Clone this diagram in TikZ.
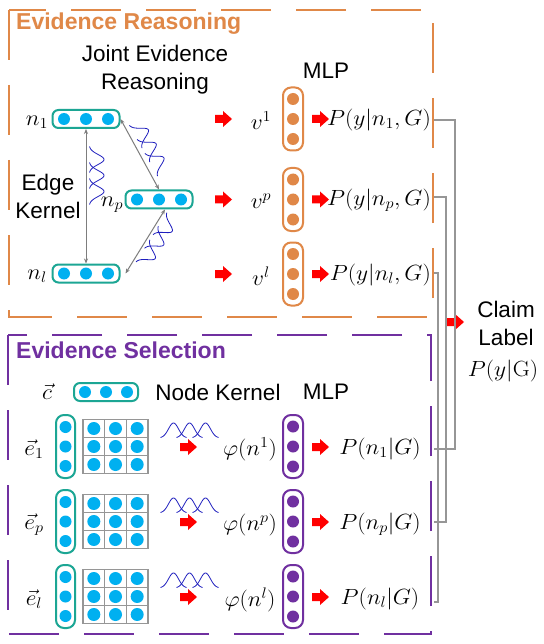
\documentclass[tikz,border=0pt]{standalone}
\usepackage[no-math]{fontspec}
\usepackage{graphicx}
\setmainfont{Liberation Sans}
\usetikzlibrary{arrows.meta}
\definecolor{ora}{RGB}{224,136,72}
\definecolor{pur}{RGB}{112,48,160}
\definecolor{tealb}{RGB}{28,166,148}
\definecolor{dblue}{RGB}{0,176,240}
\definecolor{cgray}{RGB}{150,150,150}
\definecolor{egray}{RGB}{125,125,125}
\definecolor{rred}{RGB}{255,0,0}
\definecolor{kblue}{RGB}{30,30,190}
\newcommand{\mm}[1]{\scalebox{1.13}[1.06]{$#1$}}
\tikzset{
  kern/.pic={\foreach \c in {-16,0,16}{\draw[kblue,line width=0.8pt,smooth,domain=-13:13,samples=27] plot ({\x+(\c)},{-15*exp(-(\x*\x)/50)});}},
  rarr/.pic={\fill[rred] (0,-4) -- (8,-4) -- (8,-8) -- (17,0) -- (8,8) -- (8,4) -- (0,4) -- cycle;},
}
\begin{document}
\begin{tikzpicture}[x=1pt,y=-1pt,
  sectbox/.style={line width=2.2pt,dash pattern=on 50pt off 25pt},
  sectitle/.style={font=\fontsize{23}{26}\selectfont\bfseries,anchor=west,inner sep=0},
  lbl/.style={font=\fontsize{22.5}{28}\selectfont,align=center,inner sep=0},
  mth/.style={font=\fontsize{20.74}{26}\selectfont,inner sep=0},
  hbox/.style={draw=tealb,line width=2pt,rounded corners=6pt,minimum width=#1,minimum height=18pt,inner sep=0},
  vbox/.style={draw=#1,line width=2pt,rounded corners=8pt,minimum width=20pt,minimum height=63pt,inner sep=0},
  ndot/.style={circle,fill=#1,minimum size=12pt,inner sep=0},
  gedge/.style={draw=egray,line width=1pt,{Stealth[length=5pt,width=4pt]}-{Stealth[length=5pt,width=4pt]}},
  gconn/.style={draw=cgray,line width=1.4pt},
  gridl/.style={draw=cgray,line width=1.4pt},
]
\useasboundingbox (0,0) rectangle (543,644);
\fill[white] (0,0) rectangle (543,644);

% section boxes
\draw[ora,sectbox] (9,10) rectangle (433,317);
\draw[pur,sectbox] (8,335) rectangle (431,634);
\node[sectitle,text=ora] (t1) at (16,24) {Evidence Reasoning};
\node[sectitle,text=pur] (t2) at (16,350) {Evidence Selection};

\node[lbl] (jer) at (155,70) {Joint Evidence\\Reasoning};
\node[lbl] (mlpa) at (326,71) {MLP};
\node[lbl] (ek) at (48,196) {Edge\\Kernel};

% upper node boxes
\node[hbox=67pt] (n1) at (86,119) {};
\node[hbox=67pt] (np) at (159,199.5) {};
\node[hbox=67pt] (nl) at (86,273.5) {};
\foreach \b in {n1,np,nl}{
  \foreach \i/\dx in {1/-22,2/0,3/22}{
    \node[ndot=dblue] (\b d\i) at ([xshift=\dx pt]\b.center) {};
  }
}
\node[mth] (ln1) at (37,122) {\mm{n_1}};
\node[mth] (lnp) at (112,205) {\mm{n_p}};
\node[mth] (lnl) at (37,276) {\mm{n_l}};

\draw[gedge] (n1.south) -- (nl.north);
\draw[gedge] (n1.east) -- (np.north);
\draw[gedge] ([xshift=6pt]np.south) -- ([xshift=5pt]nl.east);

\pic[rotate=-90] at (89,175.5) {kern};
\pic[rotate=-61] at (143,151) {kern};
\pic[rotate=-122] at (151,237) {kern};

\foreach \r/\yc in {1/119,p/199.5,l/274}{
  \pic at (215,\yc) {rarr};
  \node[mth] (v\r) at (261,\yc+2) {\mm{v^{\r}}};
  \node[vbox=ora] (m\r) at (293,\yc) {};
  \foreach \i/\dy in {1/-20,2/0,3/20}{\node[ndot=ora] (m\r d\i) at ([yshift=\dy pt]m\r.center) {};}
  \pic at (312,\yc) {rarr};
  \node[mth,anchor=east] (py\r) at (431,\yc+1) {\mm{P(y|n_{\r},G)}};
}

\pic at (447,322) {rarr};
\node[lbl] (claim) at (506,323) {Claim\\Label};
\node[mth] (pyg) at (503,371) {\mm{P(y|\mathrm{G})}};

% lower section
\node[mth] (cv) at (47,392) {\mm{\vec{c}}};
\node[hbox=64pt] (cb) at (106,392) {};
\foreach \i/\dx in {1/-21,2/0,3/21}{\node[ndot=dblue] (cbd\i) at ([xshift=\dx pt]cb.center) {};}
\node[lbl] (nk) at (218,392) {Node Kernel};
\node[lbl] (mlpb) at (326,392) {MLP};

\foreach \r/\s/\yc in {1/1/446.5,2/p/521.5,3/l/596.5}{
  \node[mth] (e\r) at (34,\yc+3) {\mm{\vec{e}_{\s}}};
  \node[draw=tealb,line width=2pt,rounded corners=8pt,minimum width=19pt,minimum height=63pt,inner sep=0] (eb\r) at (65.5,\yc) {};
  \foreach \i/\dy in {1/-19.5,2/0,3/19.5}{\node[ndot=dblue] (eb\r d\i) at ([yshift=\dy pt]eb\r.center) {};}
  \draw[gridl] (83,\yc-27) rectangle (148,\yc+27);
  \draw[gridl] ({83+65/3},\yc-27) -- ({83+65/3},\yc+27);
  \draw[gridl] ({83+130/3},\yc-27) -- ({83+130/3},\yc+27);
  \draw[gridl] (83,\yc-9) -- (148,\yc-9);
  \draw[gridl] (83,\yc+9) -- (148,\yc+9);
  \foreach \i in {0,1,2}{\foreach \j in {0,1,2}{
    \node[ndot=dblue,minimum size=13pt] (g\r\i\j) at ({83+65/6+\i*65/3},{\yc-18+\j*18}) {};}}
  \pic at (189.5,\yc-8.5) {kern};
  \pic at (180,\yc+0.5) {rarr};
  \node[mth] (phi\r) at (250,\yc+3) {\mm{\varphi(n^{\s})}};
  \node[vbox=pur] (pm\r) at (293,\yc) {};
  \foreach \i/\dy in {1/-20,2/0,3/20}{\node[ndot=pur] (pm\r d\i) at ([yshift=\dy pt]pm\r.center) {};}
  \pic at (312,\yc+0.5) {rarr};
  \node[mth] (pn\r) at (380,\yc+2.5) {\mm{P(n_{\s}|G)}};
}

% gray connectors
\coordinate (a1) at (434,120); \coordinate (b1) at (434,449);
\coordinate (a2) at (434,197); \coordinate (b2) at (434,522);
\coordinate (a3) at (434,273); \coordinate (b3) at (434,602);
\draw[gconn] (a1) -- ++(21,0) |- (b1);
\draw[gconn] (a2) -- ++(12,0) |- (b2);
\draw[gconn] (a3) -- ++(4,0) |- (b3);
\end{tikzpicture}
\end{document}
